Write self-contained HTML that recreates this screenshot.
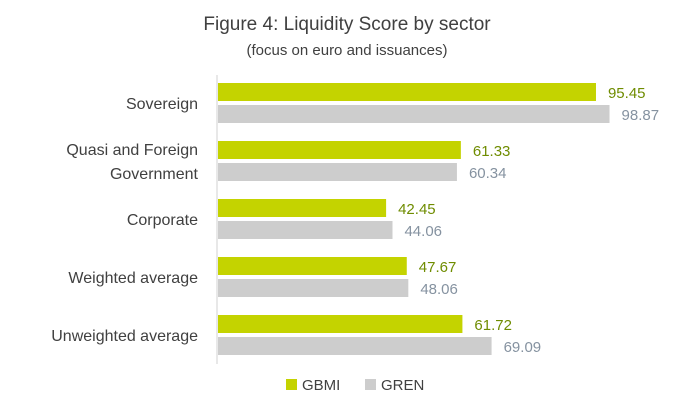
<!DOCTYPE html>
<html><head><meta charset="utf-8"><style>
body{margin:0;background:#fff;font-family:"Liberation Sans",sans-serif;}
svg text{font-family:"Liberation Sans",sans-serif;}
</style></head><body>
<svg id="chart" width="694" height="402" viewBox="0 0 694 402" xmlns="http://www.w3.org/2000/svg">
<text x="347" y="30" text-anchor="middle" font-size="19" fill="#404040">Figure 4: Liquidity Score by sector</text>
<text x="347" y="55" text-anchor="middle" font-size="15" fill="#404040">(focus on euro and issuances)</text>
<line x1="217" y1="75" x2="217" y2="364" stroke="#d0d0d0" stroke-width="1"/>
<g id="bars"></g>
<rect x="286" y="379" width="11" height="11" fill="#c4d300"/>
<text x="302" y="390" font-size="15" fill="#404040">GBMI</text>
<rect x="365" y="379" width="11" height="11" fill="#cdcdcd"/>
<text x="381" y="390" font-size="15" fill="#404040">GREN</text>
</svg>
<script>
const categories = [["Sovereign"],["Quasi and Foreign","Government"],["Corporate"],["Weighted average"],["Unweighted average"]];
const gbmi = [95.45, 61.33, 42.45, 47.67, 61.72];
const gren = [98.87, 60.34, 44.06, 48.06, 69.09];
const NS="http://www.w3.org/2000/svg";
const x0=218, scale=3.96, y0=83, step=58, bh=18;
const xs=v=>v*scale;
const g=document.getElementById('bars');
function mk(t,a){const e=document.createElementNS(NS,t);for(const k in a)e.setAttribute(k,a[k]);g.appendChild(e);return e;}
categories.forEach((c,i)=>{
  const y=y0+i*step;
  const r1=mk('rect',{x:x0,y:y,width:xs(gbmi[i]),height:bh,fill:'#c4d300'});
  
  
  const r2=mk('rect',{x:x0,y:y+22,width:xs(gren[i]),height:bh,fill:'#cdcdcd'});
  
  
  const t1=mk('text',{x:x0+xs(gbmi[i])+12,y:y+15,'font-size':15,fill:'#6f8c00'});
  t1.textContent=gbmi[i].toFixed(2);
  
  
  const t2=mk('text',{x:x0+xs(gren[i])+12,y:y+37,'font-size':15,fill:'#8592a0'});
  t2.textContent=gren[i].toFixed(2);
  
  
  const cy=y+20;
  c.forEach((line,j)=>{
    const ty=cy+6+(j-(c.length-1)/2)*24;
    const t=mk('text',{x:198,y:ty,'text-anchor':'end','font-size':16,fill:'#404040'});
    t.textContent=line;
    
    
  });
});
</script>
</body></html>
